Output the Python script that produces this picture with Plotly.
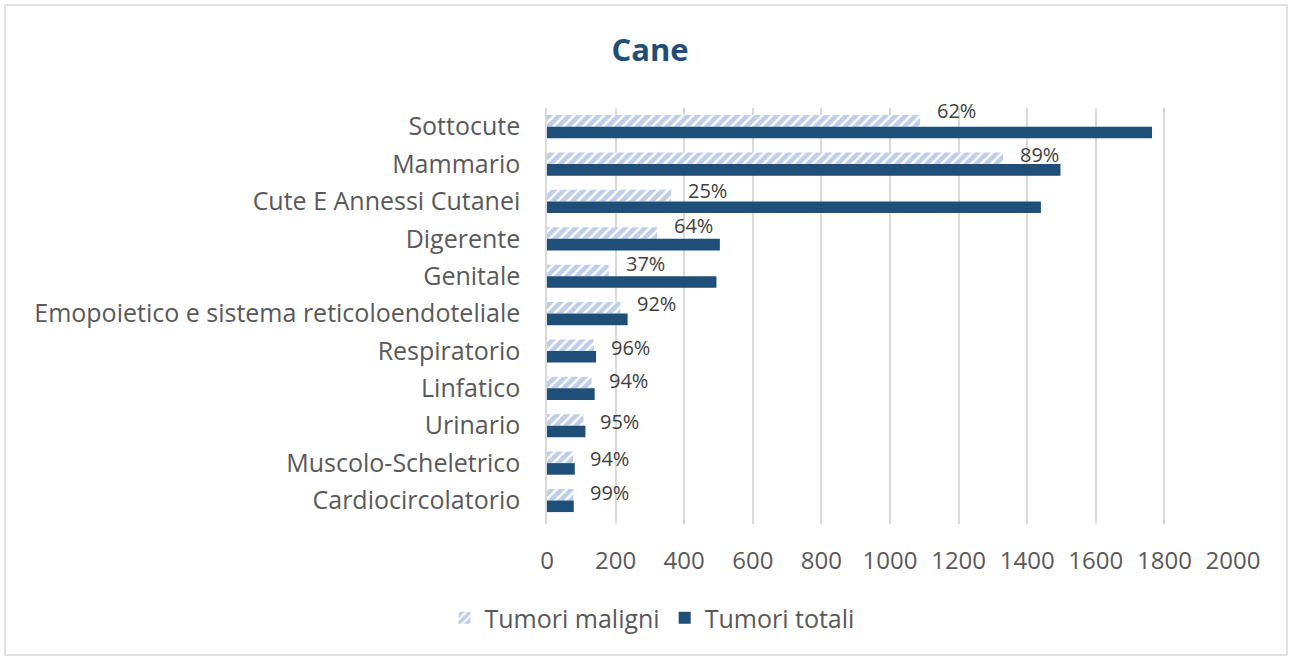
import plotly.graph_objects as go

categories = ["Sottocute", "Mammario", "Cute E Annessi Cutanei", "Digerente", "Genitale",
              "Emopoietico e sistema reticoloendoteliale", "Respiratorio", "Linfatico",
              "Urinario", "Muscolo-Scheletrico", "Cardiocircolatorio"]
tumori_maligni = [1088, 1330, 362, 321, 180, 214, 137, 130, 106, 76, 77]
tumori_totali = [1764, 1497, 1440, 504, 494, 235, 143, 139, 112, 81, 78]
percent_labels = ["62%", "89%", "25%", "64%", "37%", "92%", "96%", "94%", "95%", "94%", "99%"]
x_ticks = [0, 200, 400, 600, 800, 1000, 1200, 1400, 1600, 1800, 2000]

# vertical nudge (px) of each percentage label, as placed in the original chart
label_dy = [16, 10, 11, 13, 13, 10, 3, 8, 4, 5, 8]

FONT = "Open Sans"
GRAY = "#595959"

fig = go.Figure()
fig.add_trace(go.Bar(
    y=categories, x=tumori_maligni, orientation="h", name="Tumori maligni",
    marker=dict(color="white", line=dict(width=0),
                pattern=dict(shape="/", fgcolor="#7C9CD6", bgcolor="white", size=7, solidity=0.65)),
))
fig.add_trace(go.Bar(
    y=categories, x=tumori_totali, orientation="h", name="Tumori totali",
    marker=dict(color="#1F4E79", line=dict(width=0)),
))

for cat, val, lab, dy in zip(categories, tumori_maligni, percent_labels, label_dy):
    fig.add_annotation(x=val, y=cat, xref="x", yref="y", text=lab, showarrow=False,
                       xanchor="left", yanchor="middle", xshift=15, yshift=dy,
                       font=dict(family=FONT, size=20, color="#404040"))

W, H = 1291, 660
L, R, T, B = 547, 58, 108, 136
pw, ph = W - L - R, H - T - B
def px2x(px): return (px - L) / pw
def py2y(py): return (H - B - py) / ph

fig.add_shape(type="rect", xref="paper", yref="paper",
              x0=px2x(5), x1=px2x(1287), y0=py2y(655), y1=py2y(5),
              line=dict(color="#D9D9D9", width=1.5), fillcolor="rgba(0,0,0,0)", layer="below")

fig.update_layout(
    width=W, height=H,
    margin=dict(l=L, r=R, t=T, b=B),
    paper_bgcolor="white", plot_bgcolor="white",
    barmode="group", bargap=0.38, bargroupgap=0.0,
    title=dict(text="<b>Cane</b>", x=650 / W, xanchor="center", y=1 - 50 / H, yanchor="middle",
               font=dict(family=FONT, size=31, color="#1F4E79")),
    font=dict(family=FONT, color=GRAY),
    xaxis=dict(range=[0, 2000], tickvals=x_ticks, showgrid=True, gridcolor="#D9D9D9", gridwidth=1.5,
               zeroline=False, showline=False, ticks="outside", ticklen=15, tickcolor="rgba(0,0,0,0)",
               tickfont=dict(family=FONT, size=24, color=GRAY)),
    yaxis=dict(categoryorder="array", categoryarray=categories, autorange="reversed",
               showgrid=False, zeroline=False, showline=True, linecolor="#D9D9D9", linewidth=1.5,
               ticks="outside", ticklen=20, tickcolor="rgba(0,0,0,0)",
               tickfont=dict(family=FONT, size=25, color=GRAY)),
    legend=dict(orientation="h", x=px2x(652), xanchor="center", y=py2y(618), yanchor="middle",
                font=dict(family=FONT, size=25, color=GRAY), itemwidth=30, traceorder="normal"),
    showlegend=True,
)

fig.write_html("out.html", config={"displayModeBar": False},
               post_script="document.body.style.margin='0px';")
